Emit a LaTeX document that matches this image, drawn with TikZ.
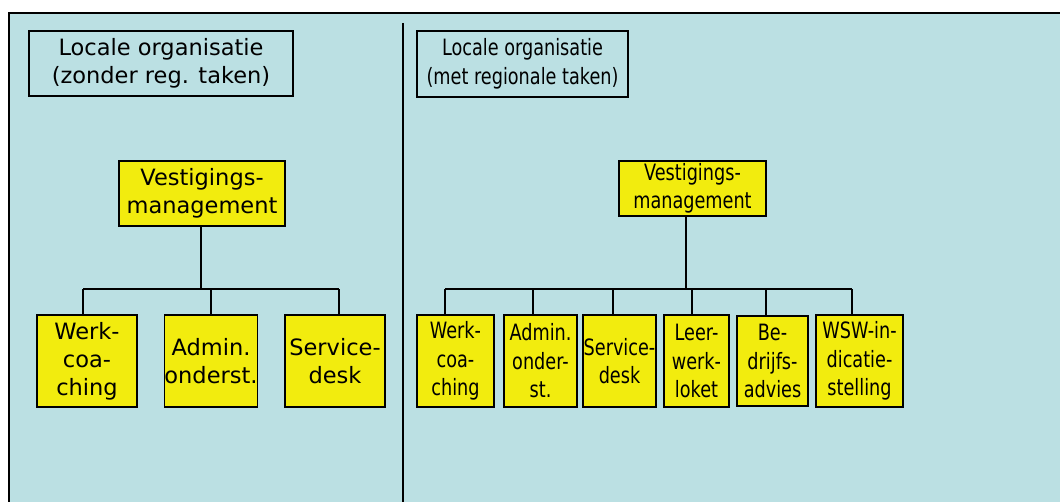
\documentclass[tikz,border=0pt]{standalone}
\usepackage{fontspec}
\setmainfont{DejaVu Sans}
\newfontfamily\narrowfont[FakeStretch=0.785]{DejaVu Sans}
\definecolor{panelbg}{RGB}{187,224,227}
\definecolor{unitfill}{RGB}{242,236,14}
\begin{document}
\begin{tikzpicture}[x=1pt,y=-1pt,
  every node/.style={inner sep=0pt,align=center,font=\fontsize{22.5}{28}\selectfont},
  titlebox/.style={draw=black,line width=1.7pt,rectangle},
  unit/.style={draw=black,fill=unitfill,line width=1.7pt,rectangle},
  narrow/.style={font=\fontsize{22.5}{28.5}\narrowfont},
  link/.style={line width=1.7pt}]
\useasboundingbox (0,0) rectangle (1060,502);
% background and frame
\fill[panelbg] (9,13) rectangle (1060,502);
\draw[line width=2pt] (9,502) -- (9,13) -- (1060,13);
\draw[line width=1.8pt] (403,23) -- (403,502);

% left panel
\node[titlebox,minimum width=264pt,minimum height=65pt] (tL) at (161,63.5) {Locale organisatie\\(zonder reg. taken)};
\node[unit,minimum width=166pt,minimum height=65pt] (vL) at (202,193.5) {Vestigings-\\management};
\node[unit,minimum width=100pt,minimum height=92pt] (l1) at (87,361) {Werk-\\coa-\\ching};
\node[unit,minimum width=92pt,minimum height=92pt] (l2) at (211,361) {Admin.\\onderst.};
\node[unit,minimum width=100pt,minimum height=92pt] (l3) at (335,361) {Service-\\desk};
\coordinate (busL) at (0,289);
\draw[link] ([xshift=-1pt]vL.south) -- ([xshift=-1pt]vL.south |- busL);
\draw[link] ([xshift=-4pt]l1.north |- busL) -- ([xshift=4pt]l3.north |- busL);
\foreach \c/\d in {l1/-4,l2/0,l3/4}
  \draw[link] ([xshift=\d pt]\c.north) -- ([xshift=\d pt]\c.north |- busL);

% right panel
\node[titlebox,narrow,minimum width=211pt,minimum height=66pt] (tR) at (522.5,64) {Locale organisatie\\(met regionale taken)};
\node[unit,narrow,minimum width=147pt,minimum height=55pt] (vR) at (692.5,188.5) {Vestigings-\\management};
\node[unit,narrow,minimum width=77pt,minimum height=92pt] (r1) at (455.5,361) {Werk-\\coa-\\ching};
\node[unit,narrow,minimum width=73pt,minimum height=92pt] (r2) at (540.5,361) {Admin.\\onder-\\st.};
\node[unit,narrow,minimum width=73pt,minimum height=92pt] (r3) at (619.5,361) {Service-\\desk};
\node[unit,narrow,minimum width=65pt,minimum height=92pt] (r4) at (696.5,361) {Leer-\\werk-\\loket};
\node[unit,narrow,minimum width=71pt,minimum height=90pt] (r5) at (772.5,361) {Be-\\drijfs-\\advies};
\node[unit,narrow,minimum width=87pt,minimum height=92pt] (r6) at (859.5,361) {WSW-in-\\dicatie-\\stelling};
\coordinate (busR) at (0,289);
\draw[link] ([xshift=-6.5pt]vR.south) -- ([xshift=-6.5pt]vR.south |- busR);
\draw[link] ([xshift=-10.5pt]r1.north |- busR) -- ([xshift=-7.5pt]r6.north |- busR);
\foreach \c/\d in {r1/-10.5,r2/-7.5,r3/-6.5,r4/-4.5,r5/-6.5,r6/-7.5}
  \draw[link] ([xshift=\d pt]\c.north) -- ([xshift=\d pt]\c.north |- busR);
\end{tikzpicture}
\end{document}
